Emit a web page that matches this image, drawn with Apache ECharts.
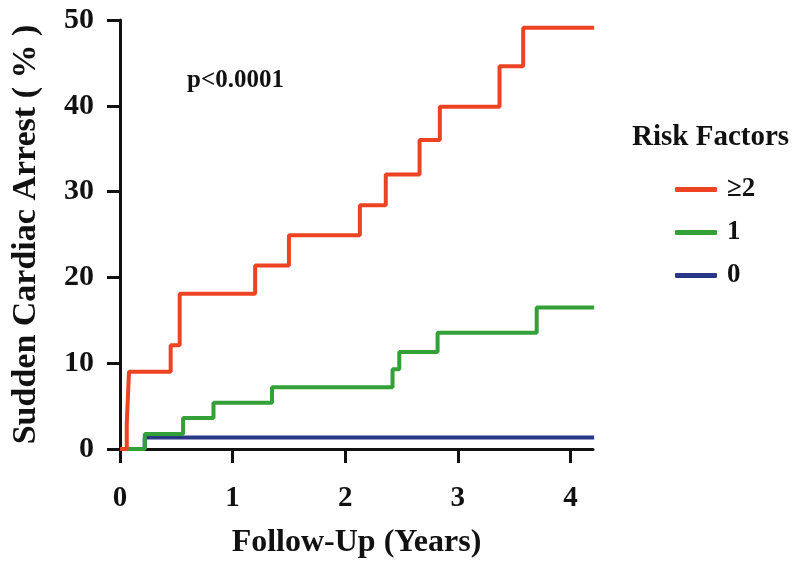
<!DOCTYPE html>
<html>
<head>
<meta charset="utf-8">
<script src="https://cdn.jsdelivr.net/npm/echarts@6/dist/echarts.min.js"></script>
<style>html,body{margin:0;padding:0;background:#fff;}#c{width:800px;height:568px;}</style>
</head>
<body>
<div id="c"></div>
<script>
// Data (years, cumulative %)
var seriesNames = ['≥2', '1', '0'];
var redX = [0, 0.06, 0.07, 0.08, 0.45, 0.53, 1.20, 1.50, 2.13, 2.36, 2.66, 2.84, 3.37, 3.58, 4.21];
var redY = [0, 3.0, 6.0, 9.0, 12.1, 18.1, 21.4, 24.9, 28.4, 32.0, 36.0, 39.9, 44.6, 49.1, 49.1];
var greenX = [0, 0.22, 0.56, 0.83, 1.35, 2.42, 2.48, 2.82, 3.70, 4.21];
var greenY = [0, 1.75, 3.6, 5.4, 7.2, 9.3, 11.3, 13.55, 16.5, 16.5];
var blueX = [0, 0.22, 4.21];
var blueY = [0, 1.35, 1.35];
var xTicks = [0, 1, 2, 3, 4];
var yTicks = [0, 10, 20, 30, 40, 50];

function pairs(xs, ys) { return xs.map(function (x, i) { return [x, ys[i]]; }); }

var FONT = '"Liberation Serif", "Times New Roman", serif';
var chart = echarts.init(document.getElementById('c'), null, { renderer: 'canvas' });
chart.setOption({
  animation: false,
  backgroundColor: '#fff',
  grid: { left: 120, right: 207, top: 20, bottom: 119, containLabel: false },
  title: [
    { text: 'Risk Factors', left: 632, top: 123, padding: 0,
      textStyle: { fontFamily: FONT, fontWeight: 'bold', fontSize: 29, color: '#111' } },
    { text: 'p<0.0001', left: 187, top: 68, padding: 0,
      textStyle: { fontFamily: FONT, fontWeight: 'bold', fontSize: 25, color: '#111' } }
  ],
  legend: {
    data: seriesNames,
    orient: 'vertical',
    left: 675, top: 176, padding: 0,
    icon: 'roundRect',
    itemWidth: 42, itemHeight: 5,
    itemGap: 16,
    textStyle: { fontFamily: FONT, fontWeight: 'bold', fontSize: 27, color: '#111', lineHeight: 26, padding: [0, 0, 0, 5] }
  },
  xAxis: {
    type: 'value', min: 0, max: 4.2, interval: 1, offset: 8,
    name: 'Follow-Up (Years)', nameLocation: 'middle', nameGap: 70,
    nameTextStyle: { fontFamily: FONT, fontWeight: 'bold', fontSize: 32, color: '#111' },
    axisLine: { show: true, lineStyle: { color: '#111', width: 3 } },
    axisTick: { show: true, length: 14, lineStyle: { color: '#111', width: 3 }, customValues: xTicks },
    axisLabel: { fontFamily: FONT, fontWeight: 'bold', fontSize: 29, color: '#111', margin: 27, customValues: xTicks },
    splitLine: { show: false }
  },
  yAxis: {
    type: 'value', min: 0, max: 50, interval: 10,
    name: 'Sudden Cardiac Arrest ( % )', nameLocation: 'middle', nameGap: 77,
    nameTextStyle: { fontFamily: FONT, fontWeight: 'bold', fontSize: 34, color: '#111' },
    axisLine: { show: true, lineStyle: { color: '#111', width: 3 } },
    axisTick: { show: true, length: 13, lineStyle: { color: '#111', width: 3 }, customValues: yTicks },
    axisLabel: { fontFamily: FONT, fontWeight: 'bold', fontSize: 30, color: '#111', margin: 26, customValues: yTicks },
    splitLine: { show: false }
  },
  series: [
    { name: '0', type: 'line', step: 'end', showSymbol: false, data: pairs(blueX, blueY),
      color: '#283886', lineStyle: { width: 4, color: '#283886' } },
    { name: '1', type: 'line', step: 'end', showSymbol: false, data: pairs(greenX, greenY),
      color: '#33A038', lineStyle: { width: 4, color: '#33A038' } },
    { name: '≥2', type: 'line', step: 'end', showSymbol: false, data: pairs(redX, redY),
      color: '#EE4322', lineStyle: { width: 4, color: '#EE4322' } }
  ]
});
</script>
</body>
</html>
